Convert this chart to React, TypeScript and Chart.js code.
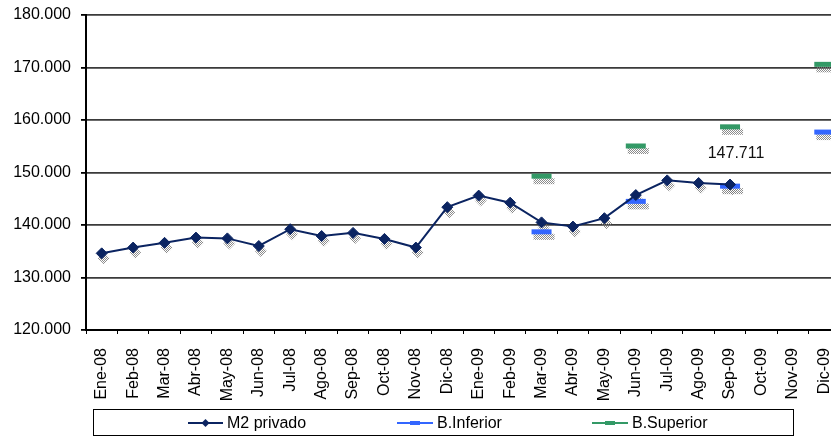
import React, { useEffect, useRef } from "react";
import { Chart, registerables } from "chart.js";

Chart.register(...registerables);

const months: string[] = [
  "Ene-08", "Feb-08", "Mar-08", "Abr-08", "May-08", "Jun-08", "Jul-08", "Ago-08",
  "Sep-08", "Oct-08", "Nov-08", "Dic-08", "Ene-09", "Feb-09", "Mar-09", "Abr-09",
  "May-09", "Jun-09", "Jul-09", "Ago-09", "Sep-09", "Oct-09", "Nov-09", "Dic-09",
];

const m2Privado: (number | null)[] = [
  134600, 135700, 136600, 137600, 137450, 136000, 139200, 137900,
  138500, 137350, 135700, 143400, 145600, 144250, 140500, 139700,
  141300, 145700, 148500, 148000, 147711, null, null, null,
];

const bandaInferior: (number | null)[] = [
  null, null, null, null, null, null, null, null,
  null, null, null, null, null, null, 138700, null,
  null, 144500, null, null, 147400, null, null, 157700,
];

const bandaSuperior: (number | null)[] = [
  null, null, null, null, null, null, null, null,
  null, null, null, null, null, null, 149300, null,
  null, 155050, null, null, 158700, null, null, 170600,
];

const yTicks: number[] = [120000, 130000, 140000, 150000, 160000, 170000, 180000];

// index of the point whose value is written on the chart (Sep-09)
const labelledIndex = 20;

const FONT = "Arial, 'Liberation Sans', sans-serif";
const NAVY = "#0b2461";
const BLUE = "#3366ff";
const GREEN = "#339966";

const fmt = (v: number) =>
  Math.round(v).toString().replace(/\B(?=(\d{3})+(?!\d))/g, ".");

function makeShadowPattern(ctx: CanvasRenderingContext2D) {
  const c = document.createElement("canvas");
  c.width = 2;
  c.height = 2;
  const g = c.getContext("2d")!;
  g.fillStyle = "rgba(120,120,120,0.85)";
  g.fillRect(0, 0, 1, 1);
  g.fillRect(1, 1, 1, 1);
  return ctx.createPattern(c, "repeat");
}

// dotted grey drop shadow under every marker
const markerShadow = {
  id: "markerShadow",
  beforeDatasetsDraw(chart: any) {
    const ctx: CanvasRenderingContext2D = chart.ctx;
    const pat = makeShadowPattern(ctx);
    if (!pat) return;
    ctx.save();
    ctx.fillStyle = pat;
    chart.data.datasets.forEach((ds: any, i: number) => {
      const meta = chart.getDatasetMeta(i);
      meta.data.forEach((pt: any, j: number) => {
        if (ds.data[j] == null) return;
        const x = pt.x + 2;
        const y = pt.y + 5;
        ctx.beginPath();
        if (i === 0) {
          ctx.moveTo(x - 6, y);
          ctx.lineTo(x, y - 6);
          ctx.lineTo(x + 6, y);
          ctx.lineTo(x, y + 6);
          ctx.closePath();
        } else {
          ctx.rect(x - 10, y - 3, 21, 6);
        }
        ctx.fill();
      });
    });
    ctx.restore();
  },
};

// value label and the boxed legend under the axis
const annotations = {
  id: "annotations",
  afterDraw(chart: any) {
    const ctx: CanvasRenderingContext2D = chart.ctx;
    const xs = chart.scales.x;
    const ys = chart.scales.y;
    const v = m2Privado[labelledIndex] as number;
    ctx.save();
    ctx.fillStyle = "#111";
    ctx.font = `16px ${FONT}`;
    ctx.textAlign = "center";
    ctx.textBaseline = "middle";
    ctx.fillText(fmt(v), xs.getPixelForValue(labelledIndex) + 6, ys.getPixelForValue(v) - 31);

    // legend box
    ctx.strokeStyle = "#000";
    ctx.lineWidth = 1;
    ctx.strokeRect(93.5, 409.5, 700, 26);
    const ly = 423;
    const items = [
      { label: chart.data.datasets[0].label, color: NAVY, x0: 188, x1: 223, marker: "diamond" },
      { label: chart.data.datasets[1].label, color: BLUE, x0: 397, x1: 433, marker: "dash" },
      { label: chart.data.datasets[2].label, color: GREEN, x0: 592, x1: 628, marker: "dash" },
    ];
    items.forEach((it) => {
      ctx.strokeStyle = it.color;
      ctx.lineWidth = 2;
      ctx.beginPath();
      ctx.moveTo(it.x0, ly);
      ctx.lineTo(it.x1, ly);
      ctx.stroke();
      const cx = (it.x0 + it.x1) / 2;
      ctx.fillStyle = it.color;
      ctx.beginPath();
      if (it.marker === "diamond") {
        ctx.moveTo(cx - 4, ly);
        ctx.lineTo(cx, ly - 4);
        ctx.lineTo(cx + 4, ly);
        ctx.lineTo(cx, ly + 4);
        ctx.closePath();
      } else {
        ctx.rect(cx - 5, ly - 2, 10, 4);
      }
      ctx.fill();
      ctx.fillStyle = "#000";
      ctx.font = `16px ${FONT}`;
      ctx.textAlign = "left";
      ctx.textBaseline = "middle";
      ctx.fillText(it.label, it.x1 + 4, ly + 1);
    });
    ctx.restore();
  },
};

export default function App() {
  const ref = useRef<HTMLCanvasElement | null>(null);

  useEffect(() => {
    if (!ref.current) return;
    const chart = new Chart(ref.current, {
      type: "line",
      data: {
        labels: months,
        datasets: [
          {
            label: "M2 privado",
            data: m2Privado,
            borderColor: NAVY,
            backgroundColor: NAVY,
            borderWidth: 2,
            pointStyle: "rectRot",
            pointRadius: 5.5,
            pointBorderWidth: 1,
            pointBackgroundColor: NAVY,
            pointBorderColor: NAVY,
            spanGaps: false,
          },
          {
            label: "B.Inferior",
            data: bandaInferior,
            borderColor: BLUE,
            backgroundColor: BLUE,
            showLine: false,
            pointStyle: "line",
            pointRadius: 10,
            pointBorderWidth: 5,
            pointBorderColor: BLUE,
          },
          {
            label: "B.Superior",
            data: bandaSuperior,
            borderColor: GREEN,
            backgroundColor: GREEN,
            showLine: false,
            pointStyle: "line",
            pointRadius: 10,
            pointBorderWidth: 5,
            pointBorderColor: GREEN,
          },
        ],
      },
      options: {
        responsive: false,
        animation: false,
        devicePixelRatio: 1,
        layout: { padding: { top: 15, right: 40, left: 0, bottom: 0 } },
        plugins: {
          legend: { display: false },
          tooltip: { enabled: false },
        },
        scales: {
          x: {
            offset: true,
            grid: {
              offset: true,
              drawOnChartArea: false,
              drawTicks: true,
              tickLength: 4,
              tickColor: "#000",
              lineWidth: 1,
            },
            border: { color: "#000", width: 2 },
            ticks: {
              autoSkip: false,
              minRotation: 90,
              maxRotation: 90,
              padding: 14,
              color: "#000",
              font: { family: FONT, size: 16 },
            },
            afterFit(scale: any) {
              scale.height = 107;
              scale.paddingLeft = 0;
              scale.paddingRight = 0;
            },
          },
          y: {
            min: 120000,
            max: 180000,
            afterBuildTicks(scale: any) {
              scale.ticks = yTicks.map((value) => ({ value }));
            },
            grid: {
              color: "#3a3a3a",
              lineWidth: 1.8,
              tickLength: 5,
              tickColor: "#000",
            },
            border: { color: "#000", width: 2 },
            ticks: {
              padding: 10,
              color: "#000",
              font: { family: FONT, size: 16 },
              callback: (v: any) => fmt(Number(v)),
            },
            afterFit(scale: any) {
              scale.width = 86;
              scale.paddingTop = 0;
              scale.paddingBottom = 0;
            },
          },
        },
      },
      plugins: [markerShadow, annotations],
    });
    return () => chart.destroy();
  }, []);

  return (
    <div
      style={{
        position: "fixed",
        left: 0,
        top: 0,
        width: 831,
        height: 437,
        overflow: "hidden",
        background: "#fff",
      }}
    >
      <canvas ref={ref} width={880} height={437} style={{ display: "block" }} />
    </div>
  );
}
